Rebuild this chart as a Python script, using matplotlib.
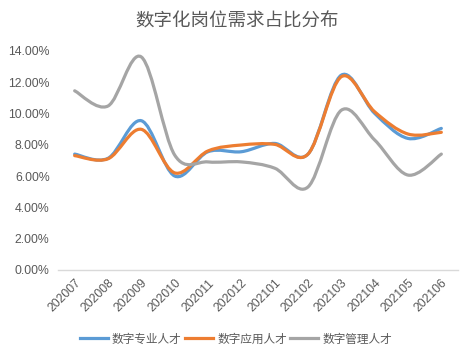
import matplotlib
matplotlib.use("Agg")
import matplotlib.pyplot as plt
from matplotlib.path import Path
from matplotlib.patches import PathPatch
from matplotlib.lines import Line2D
from matplotlib.ticker import PercentFormatter
import numpy as np

plt.rcParams['font.family'] = ['Liberation Sans', 'Noto Sans CJK SC', 'DejaVu Sans']

title = "数字化岗位需求占比分布"
months = ["202007", "202008", "202009", "202010", "202011", "202012",
          "202101", "202102", "202103", "202104", "202105", "202106"]
series_names = ["数字专业人才", "数字应用人才", "数字管理人才"]
professional = [7.40, 7.13, 9.53, 6.00, 7.55, 7.55, 8.08, 7.40, 12.44, 10.00, 8.40, 9.04]
application = [7.30, 7.10, 8.98, 6.20, 7.60, 7.98, 8.02, 7.40, 12.34, 10.10, 8.68, 8.79]
management = [11.44, 10.47, 13.60, 7.34, 6.90, 6.90, 6.50, 5.30, 10.20, 8.30, 6.06, 7.40]
colors = ["#5B9BD5", "#ED7D31", "#A5A5A5"]

fig = plt.figure(figsize=(4.74, 3.57), dpi=100)
ax = fig.add_axes([58/474, 1-270/357, 400/474, (270-50.7)/357])


def smooth_path(xs, ys):
    pts = np.column_stack([xs, ys]).astype(float)
    n = len(pts)
    verts = [pts[0]]
    codes = [Path.MOVETO]
    for i in range(n - 1):
        p0 = pts[i - 1] if i > 0 else pts[i]
        p1 = pts[i]
        p2 = pts[i + 1]
        p3 = pts[i + 2] if i + 2 < n else pts[i + 1]
        c1 = p1 + (p2 - p0) / 6.0
        c2 = p2 - (p3 - p1) / 6.0
        verts += [c1, c2, p2]
        codes += [Path.CURVE4] * 3
    return Path(verts, codes)


x = np.arange(len(months))
for vals, c in zip([professional, application, management], colors):
    p = smooth_path(x, vals)
    ax.add_patch(PathPatch(p, facecolor='none', edgecolor=c, lw=2.3,
                           capstyle='round', joinstyle='round'))

ax.set_xlim(-0.5, len(months) - 0.5)
ax.set_ylim(0, 14)
ax.set_yticks(np.arange(0, 15, 2))
ax.yaxis.set_major_formatter(PercentFormatter(decimals=2))
ax.set_xticks(x)
ax.set_xticklabels(months, rotation=45, ha='right', rotation_mode='anchor')

for s in ['top', 'right', 'left']:
    ax.spines[s].set_visible(False)
ax.spines['bottom'].set_color('#D9D9D9')
ax.spines['bottom'].set_linewidth(1.0)
ax.tick_params(axis='both', length=0, labelsize=8.8, colors='#595959')
ax.tick_params(axis='y', pad=6)
ax.tick_params(axis='x', pad=5)

fig.text(0.5, 1 - 21.7/357, title, ha='center', va='center', fontsize=13.3,
         color='#595959', family=['Noto Sans CJK SC'])

handles = [Line2D([], [], color=c, lw=2.3) for c in colors]
leg = fig.legend(handles, series_names, loc='center', bbox_to_anchor=(236/474, 1 - 339/357),
                 ncol=3, frameon=False, fontsize=8.4, handlelength=2.4,
                 handletextpad=0.35, columnspacing=0.3, borderaxespad=0)
for t in leg.get_texts():
    t.set_color('#595959')
    t.set_family(['Noto Sans CJK SC'])

fig.savefig("out.png", dpi=100)
